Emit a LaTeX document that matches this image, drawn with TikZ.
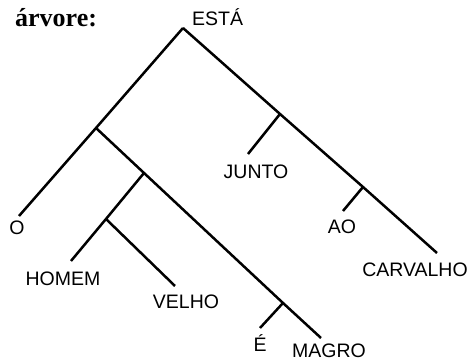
\documentclass[tikz,border=0pt]{standalone}
\usepackage{fontspec}
\setmainfont{Liberation Serif}
\newfontfamily\labfont{Liberation Sans}
\begin{document}
\begin{tikzpicture}[x=1pt,y=1pt,
  edge/.style={line width=2.5pt},
  lbl/.style={font=\labfont\fontsize{19.5}{19.5}\selectfont, inner sep=0pt, anchor=base},
  ttl/.style={font=\bfseries\fontsize{26}{26}\selectfont, inner sep=0pt, anchor=base west}]
\useasboundingbox (0,0) rectangle (476,363);
% junctions and free ends
\coordinate (root) at (183,335);
\coordinate (n1) at (96,235);
\coordinate (n2) at (144,190);
\coordinate (n3) at (106,144);
\coordinate (ej) at (283,60);
\coordinate (jj) at (280,249);
\coordinate (aj) at (363,176);
\coordinate (oend) at (19,147);
\coordinate (hend) at (71,102);
\coordinate (vend) at (175,77);
\coordinate (eend) at (260,35);
\coordinate (mend) at (321,25);
\coordinate (juend) at (248,209);
\coordinate (aoend) at (343,152);
\coordinate (cend) at (437,110);
% edges
\draw[edge] (root) -- (n1) -- (oend);
\draw[edge] (root) -- (jj) -- (aj) -- (cend);
\draw[edge] (jj) -- (juend);
\draw[edge] (aj) -- (aoend);
\draw[edge] (n1) -- (n2) -- (ej) -- (mend);
\draw[edge] (n2) -- (n3) -- (hend);
\draw[edge] (n3) -- (vend);
\draw[edge] (ej) -- (eend);
% labels
\node[ttl] (title) at (15,336) {árvore:};
\node[lbl, anchor=base west] (esta) at (192,337) {ESTÁ};
\node[lbl] (o) at (17,128) {O};
\node[lbl] (homem) at (63,77) {HOMEM};
\node[lbl] (velho) at (186,54) {VELHO};
\node[lbl] (junto) at (256,184) {JUNTO};
\node[lbl] (ao) at (342,129) {AO};
\node[lbl] (carvalho) at (415,86) {CARVALHO};
\node[lbl] (e) at (260,11) {É};
\node[lbl] (magro) at (329,5) {MAGRO};
\end{tikzpicture}
\end{document}
